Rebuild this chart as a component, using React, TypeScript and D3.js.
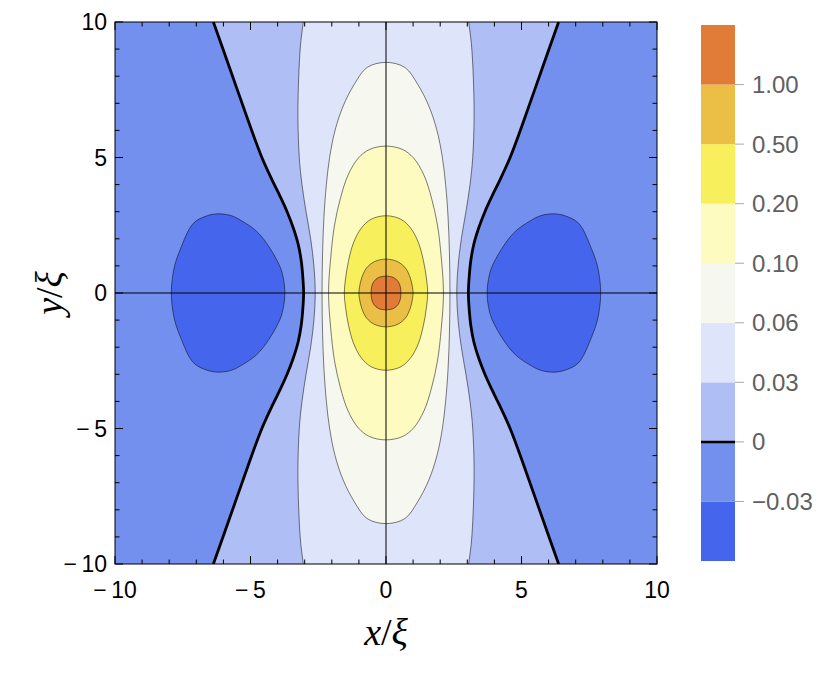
import React from "react";
import * as d3 from "d3";

// ---- data (first quadrant, x >= 0, y >= 0) ----
// closed contours: from apex on the y axis to the crossing on the x axis
const contour1_00: [number, number][] = [[0, 0.62], [0.28, 0.57], [0.45, 0.42], [0.53, 0.22], [0.55, 0]];
const contour0_50: [number, number][] = [[0, 1.25], [0.42, 1.16], [0.72, 0.92], [0.9, 0.55], [0.98, 0.2], [1.0, 0]];
const contour0_20: [number, number][] = [[0, 2.85], [0.55, 2.72], [0.92, 2.38], [1.2, 1.85], [1.38, 1.2], [1.49, 0.55], [1.54, 0]];
const contour0_10: [number, number][] = [[0, 5.42], [0.6, 5.3], [1.02, 4.98], [1.4, 4.35], [1.68, 3.5], [1.9, 2.5], [2.04, 1.3], [2.12, 0]];
const contour0_06: [number, number][] = [[0, 8.51], [0.7, 8.32], [1.17, 7.7], [1.58, 6.9], [1.88, 6.0], [2.08, 5.0], [2.2, 4.0], [2.29, 2.8], [2.34, 1.5], [2.36, 0]];
// open contours: from the x axis up to the top edge
const contour0_03: [number, number][] = [[2.61, 0], [2.66, 1.0], [2.78, 2.0], [2.95, 3.0], [3.1, 4.0], [3.2, 5.0], [3.25, 6.5], [3.22, 8.0], [3.15, 9.2], [3.05, 10]];
const contour0_00: [number, number][] = [[3.04, 0], [3.07, 0.6], [3.13, 1.2], [3.24, 1.8], [3.42, 2.4], [3.65, 3.0], [3.9, 3.55], [4.17, 4.1], [4.58, 5.0], [5.1, 6.4], [5.75, 8.25], [6.37, 10]];
// negative lobe (upper half, from inner to outer x-axis crossing)
const lobeMinus0_03: [number, number][] = [[3.73, 0], [3.78, 0.5], [3.91, 0.97], [4.4, 1.83], [4.8, 2.3], [5.27, 2.63], [5.7, 2.85], [6.19, 2.92], [6.6, 2.85], [7.11, 2.57], [7.6, 1.59], [7.8, 1.0], [7.9, 0.4], [7.92, 0]];

// colour bands, lowest to highest
const bandColors = ["#4566EC", "#7390EE", "#AFBEF4", "#DEE4F9", "#F6F7EE", "#FDFBC0", "#F8EF5C", "#EBBF45", "#E07B38"];
// colour-bar tick labels (band boundaries, lowest to highest)
const barLabels = ["\u22120.03", "0", "0.03", "0.06", "0.10", "0.20", "0.50", "1.00"];
const axisTickValues = [-10, -5, 0, 5, 10];
const axisTickLabels = ["\u2212\u200910", "\u2212\u20095", "0", "5", "10"];

const W = 830;
const H = 685;
const L = 115, R = 657, T = 22, B = 564;

const x = d3.scaleLinear().domain([-10, 10]).range([L, R]);
const y = d3.scaleLinear().domain([-10, 10]).range([B, T]);

type P = [number, number];

function closedFromQuadrant(pts: P[]): P[] {
  const q1 = pts;
  const q4 = pts.slice(0, -1).reverse().map(([a, b]) => [a, -b] as P);
  const q3 = pts.slice(1).map(([a, b]) => [-a, -b] as P);
  const q2 = pts.slice(1, -1).reverse().map(([a, b]) => [-a, b] as P);
  return [...q1, ...q4, ...q3, ...q2];
}
function openFull(pts: P[], sx: number): P[] {
  const lower = pts.slice(1).reverse().map(([a, b]) => [sx * a, -b] as P);
  const upper = pts.map(([a, b]) => [sx * a, b] as P);
  return [...lower, ...upper];
}
function lobe(pts: P[], sx: number): P[] {
  const upper = pts.map(([a, b]) => [sx * a, b] as P);
  const lower = pts.slice(1, -1).reverse().map(([a, b]) => [sx * a, -b] as P);
  return [...upper, ...lower];
}

const closedLine = d3.line<P>().x(d => x(d[0])).y(d => y(d[1])).curve(d3.curveCatmullRomClosed.alpha(0.5));
const openLine = d3.line<P>().x(d => x(d[0])).y(d => y(d[1])).curve(d3.curveCatmullRom.alpha(0.5));

function between(pts: P[]): string {
  const left = openFull(pts, -1).slice().reverse(); // top to bottom
  const right = openFull(pts, 1); // bottom to top
  return (openLine(left) || "") + (openLine(right) || "").replace(/^M/, "L") + "Z";
}

const closedSets: { pts: P[]; color: string }[] = [
  { pts: contour0_06, color: bandColors[4] },
  { pts: contour0_10, color: bandColors[5] },
  { pts: contour0_20, color: bandColors[6] },
  { pts: contour0_50, color: bandColors[7] },
  { pts: contour1_00, color: bandColors[8] },
];

const LINE = "rgba(0,0,0,0.5)";

export default function App() {
  const minor = d3.range(-10, 11, 1);
  const barX = 701, barW = 34, barTop = 25, barBot = 561;
  const barScale = d3.scaleLinear().domain([0, bandColors.length]).range([barBot, barTop]);
  const sans = "'Liberation Sans', Arial, sans-serif";
  const serif = "'Liberation Serif', 'Times New Roman', serif";
  return (
    <svg width={W} height={H} style={{ position: "absolute", left: 0, top: 0, background: "#fff" }}>
      <defs>
        <clipPath id="plotClip">
          <rect x={L} y={T} width={R - L} height={B - T} />
        </clipPath>
      </defs>
      <g clipPath="url(#plotClip)">
        <rect x={L} y={T} width={R - L} height={B - T} fill={bandColors[1]} />
        <path d={between(contour0_00)} fill={bandColors[2]} />
        <path d={between(contour0_03)} fill={bandColors[3]} />
        {closedSets.map((c, i) => (
          <path key={i} d={closedLine(closedFromQuadrant(c.pts)) || ""} fill={c.color} stroke={LINE} strokeWidth={1} />
        ))}
        {[1, -1].map(s => (
          <path key={"lobe" + s} d={closedLine(lobe(lobeMinus0_03, s)) || ""} fill={bandColors[0]} stroke={LINE} strokeWidth={1} />
        ))}
        {[1, -1].map(s => (
          <path key={"c03" + s} d={openLine(openFull(contour0_03, s)) || ""} fill="none" stroke={LINE} strokeWidth={1} />
        ))}
        {[1, -1].map(s => (
          <path key={"c00" + s} d={openLine(openFull(contour0_00, s)) || ""} fill="none" stroke="#000" strokeWidth={2.8} />
        ))}
        <line x1={x(0)} x2={x(0)} y1={T} y2={B} stroke="#000" strokeWidth={1} />
        <line x1={L} x2={R} y1={y(0)} y2={y(0)} stroke="#000" strokeWidth={1} />
      </g>
      <rect x={L} y={T} width={R - L} height={B - T} fill="none" stroke="#000" strokeWidth={1} />
      {minor.map(v => {
        const len = v % 5 === 0 ? 8 : 4.5;
        return (
          <g key={"t" + v} stroke="#000" strokeWidth={1}>
            <line x1={x(v)} x2={x(v)} y1={B} y2={B - len} />
            <line x1={x(v)} x2={x(v)} y1={T} y2={T + len} />
            <line x1={L} x2={L + len} y1={y(v)} y2={y(v)} />
            <line x1={R} x2={R - len} y1={y(v)} y2={y(v)} />
          </g>
        );
      })}
      {axisTickValues.map((v, i) => (
        <text key={"xl" + v} x={x(v)} y={598} textAnchor="middle" fontFamily={sans} fontSize={23} fill="#000">
          {axisTickLabels[i]}
        </text>
      ))}
      {axisTickValues.map((v, i) => (
        <text key={"yl" + v} x={107} y={y(v) + 8} textAnchor="end" fontFamily={sans} fontSize={23} fill="#000">
          {axisTickLabels[i]}
        </text>
      ))}
      <text x={386} y={645} textAnchor="middle" fontFamily={serif} fontSize={38} fill="#000">
        <tspan fontStyle="italic">x</tspan>
        <tspan>/</tspan>
        <tspan fontStyle="italic">ξ</tspan>
      </text>
      <text transform={`translate(62,${y(0)}) rotate(-90)`} textAnchor="middle" fontFamily={serif} fontSize={38} fill="#000">
        <tspan fontStyle="italic">y</tspan>
        <tspan>/</tspan>
        <tspan fontStyle="italic">ξ</tspan>
      </text>
      {bandColors.map((c, i) => (
        <rect key={"b" + i} x={barX} y={barScale(i + 1)} width={barW} height={barScale(i) - barScale(i + 1)} fill={c} />
      ))}
      <line x1={barX} x2={barX + barW} y1={barScale(2)} y2={barScale(2)} stroke="#000" strokeWidth={2.5} />
      {barLabels.map((lab, i) => (
        <g key={"bl" + i}>
          <line x1={barX + barW} x2={barX + barW + 9} y1={barScale(i + 1)} y2={barScale(i + 1)} stroke="#aaa" strokeWidth={1} />
          <text x={752} y={barScale(i + 1) + 8.5} fontFamily={sans} fontSize={24} fill="#606060">
            {lab}
          </text>
        </g>
      ))}
    </svg>
  );
}
